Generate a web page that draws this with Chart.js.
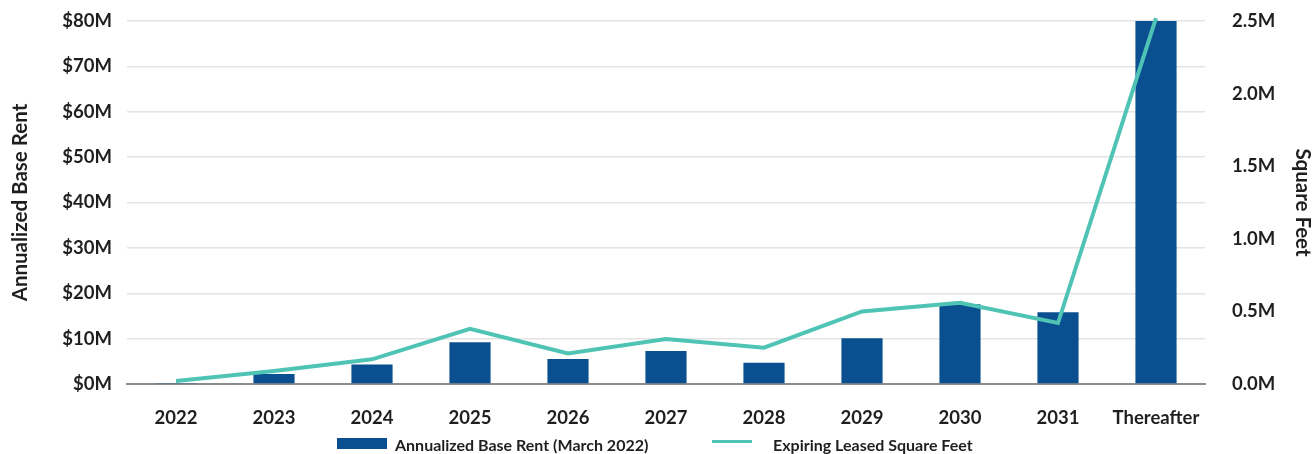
<!DOCTYPE html>
<html lang="en">
<head>
    <meta charset="UTF-8">
    <title>Lease Expirations</title>
    <script src="https://cdn.jsdelivr.net/npm/chart.js"></script>
    <style>
        body { margin: 0; background: #fff; }
        #wrap { position: relative; width: 1316px; height: 454px; overflow: hidden; }
        #legend {
            position: absolute; left: 0; top: 436px; width: 1316px; height: 18px;
            font-family: Lato, sans-serif; font-weight: 700; font-size: 16px; line-height: 18px;
            color: #1f1f1f; white-space: nowrap;
        }
        .item { position: absolute; top: 0; }
        .item span { display: inline-block; vertical-align: top; }
        .box { width: 50px; height: 11px; margin-right: 8px; margin-top: 2px; }
        .ln { width: 40px; height: 3px; margin-right: 21px; margin-top: 4px; }
    </style>
</head>
<body>
<div id="wrap">
    <canvas id="leaseChart" width="1316" height="454"></canvas>
    <div id="legend"></div>
</div>

<script>
    const years = ['2022', '2023', '2024', '2025', '2026', '2027', '2028', '2029', '2030', '2031', 'Thereafter'];
    // Annualized base rent, $M
    const baseRent = [0.2, 2.2, 4.3, 9.2, 5.5, 7.3, 4.7, 10.1, 17.6, 15.8, 80];
    // Expiring leased square feet, M
    const sqFeet = [0.02, 0.09, 0.17, 0.38, 0.21, 0.31, 0.25, 0.50, 0.56, 0.42, 2.52];

    const barLabel = 'Annualized Base Rent (March 2022)';
    const lineLabel = 'Expiring Leased Square Feet';
    const barColor = '#0a5090';
    const lineColor = '#4fc4b5';
    const textColor = '#1f1f1f';
    const tickFont = { family: 'Lato', size: 18.5, weight: 'bold' };
    const titleFont = { family: 'Lato', size: 20.5, weight: 'bold' };

    // fixed axis sizes so the plot area lands where the original has it
    function fitY(width) {
        return (scale) => {
            scale.width = width;
            scale.paddingTop = 21;
            scale.paddingBottom = 0;
        };
    }

    const ctx = document.getElementById('leaseChart').getContext('2d');
    const leaseChart = new Chart(ctx, {
        data: {
            labels: years,
            datasets: [
                {
                    type: 'line',
                    label: lineLabel,
                    data: sqFeet,
                    yAxisID: 'ySqft',
                    borderColor: lineColor,
                    borderWidth: 4,
                    pointRadius: 0,
                    tension: 0,
                    clip: false,
                    order: 0
                },
                {
                    type: 'bar',
                    label: barLabel,
                    data: baseRent,
                    yAxisID: 'yRent',
                    backgroundColor: barColor,
                    barPercentage: 0.42,
                    categoryPercentage: 1,
                    order: 1
                }
            ]
        },
        options: {
            responsive: false,
            animation: false,
            layout: { padding: 0 },
            plugins: {
                legend: { display: false },
                tooltip: { enabled: false }
            },
            scales: {
                x: {
                    grid: { display: false },
                    border: { display: true, color: '#8c8c8c', width: 2 },
                    ticks: { color: textColor, font: tickFont, padding: 15, maxRotation: 0 },
                    afterFit: (scale) => { scale.height = 70; }
                },
                yRent: {
                    position: 'left',
                    min: 0,
                    max: 80,
                    border: { display: false },
                    grid: { color: '#e4e4e4', lineWidth: 1.5, drawTicks: false },
                    ticks: {
                        stepSize: 10,
                        color: textColor,
                        font: tickFont,
                        padding: 15,
                        callback: (v) => '$' + v + 'M'
                    },
                    title: {
                        display: true,
                        text: 'Annualized Base Rent',
                        color: textColor,
                        font: titleFont,
                        padding: { top: 8, bottom: 0 }
                    },
                    afterFit: fitY(127)
                },
                ySqft: {
                    position: 'right',
                    min: 0,
                    max: 2.5,
                    border: { display: false },
                    grid: { display: false, drawTicks: false },
                    ticks: {
                        stepSize: 0.5,
                        color: textColor,
                        font: tickFont,
                        padding: 27,
                        callback: (v) => v.toFixed(1) + 'M'
                    },
                    title: {
                        display: true,
                        text: 'Square Feet',
                        color: textColor,
                        font: titleFont,
                        padding: { top: 1, bottom: 0 }
                    },
                    afterFit: fitY(111)
                }
            }
        }
    });

    // legend below the chart
    const legend = document.getElementById('legend');
    legend.innerHTML =
        '<div class="item" style="left:337px"><span class="box" style="background:' + barColor + '"></span><span>' + barLabel + '</span></div>' +
        '<div class="item" style="left:712px"><span class="ln" style="background:' + lineColor + '"></span><span>' + lineLabel + '</span></div>';
</script>
</body>
</html>
